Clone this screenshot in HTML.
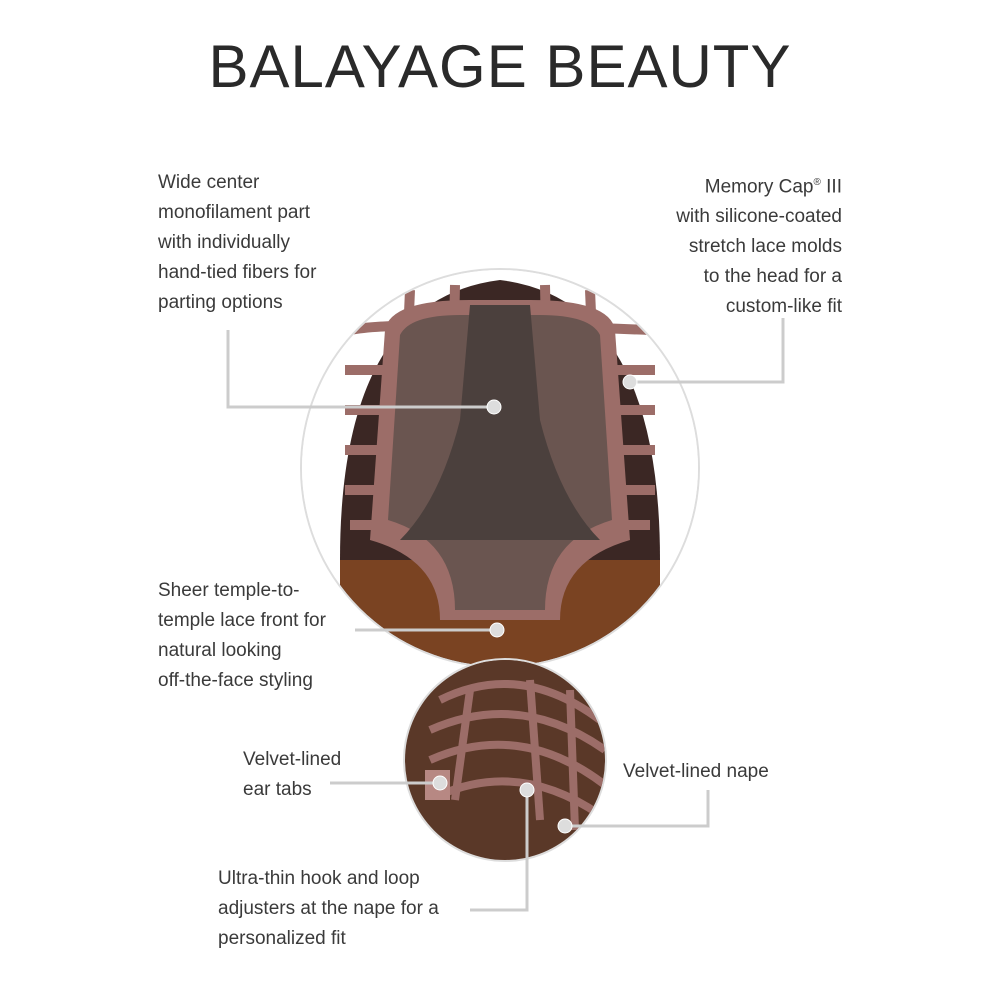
<!DOCTYPE html>
<html><head><meta charset="utf-8"><style>
html,body{margin:0;padding:0;background:#fff;}
body{width:1000px;height:1000px;position:relative;overflow:hidden;font-family:"Liberation Sans",sans-serif;}
.t{position:absolute;font-size:19px;line-height:30px;color:#3a3a3a;}
h1{position:absolute;top:32px;left:0;width:1000px;text-align:center;margin:0;font-weight:normal;font-size:60px;letter-spacing:1px;color:#2a2a2a;}
svg{position:absolute;left:0;top:0;}
</style></head><body>
<h1>BALAYAGE BEAUTY</h1>
<svg width="1000" height="1000" viewBox="0 0 1000 1000">
<defs>
<clipPath id="c1"><circle cx="500" cy="468" r="198"/></clipPath>
<clipPath id="c2"><circle cx="505" cy="760" r="100"/></clipPath>
</defs>
<circle cx="500" cy="468" r="199" fill="none" stroke="#ddd" stroke-width="2"/>
<g clip-path="url(#c1)">
<rect x="300" y="268" width="400" height="400" fill="#fff"/>
<path d="M340 560 Q340 300 500 280 Q660 300 660 560 L660 680 L340 680Z" fill="#3b2724"/>
<path d="M340 560 L660 560 L660 680 L340 680Z" fill="#7a4322"/>
<g stroke="#9c6d68" stroke-width="10" fill="none">
<path d="M350 330 Q400 320 650 330"/><path d="M345 370 L655 370"/><path d="M345 410 L655 410"/><path d="M345 450 L655 450"/><path d="M345 490 L655 490"/><path d="M350 525 L650 525"/>
<path d="M410 290 L400 520"/><path d="M455 285 L450 520"/><path d="M545 285 L550 520"/><path d="M590 290 L600 520"/>
</g>
<path d="M385 330 Q390 300 470 300 L530 300 Q610 300 615 330 L630 540 Q560 560 560 620 L440 620 Q440 560 370 540Z" fill="#9c6d68"/>
<path d="M400 335 Q410 315 460 315 L540 315 Q590 315 600 335 L612 520 Q545 540 545 610 L455 610 Q455 540 388 520Z" fill="#6a5550"/>
<path d="M470 305 L530 305 L540 420 Q560 500 600 540 L400 540 Q440 500 460 420Z" fill="#4b403d"/>
</g>
<circle cx="505" cy="760" r="101" fill="none" stroke="#ddd" stroke-width="2"/>
<g clip-path="url(#c2)">
<rect x="400" y="655" width="210" height="210" fill="#5a3828"/>
<g stroke="#9c6d68" stroke-width="8" fill="none">
<path d="M440 700 Q520 660 600 720"/><path d="M430 730 Q520 690 605 750"/><path d="M430 760 Q520 720 605 785"/><path d="M440 795 Q520 760 600 815"/>
<path d="M470 690 L455 800"/><path d="M530 680 L540 820"/><path d="M570 690 L575 830"/>
</g>
<rect x="425" y="770" width="25" height="30" fill="#b78883"/>
</g>
<g stroke="#ccc" stroke-width="3" fill="none">
<polyline points="228,330 228,407 494,407"/>
<polyline points="783,318 783,382 630,382"/>
<polyline points="355,630 497,630"/>
<polyline points="330,783 440,783"/>
<polyline points="708,790 708,826 565,826"/>
<polyline points="470,910 527,910 527,790"/>
</g>
<g fill="#ddd" stroke="#fff" stroke-width="1">
<circle cx="494" cy="407" r="7"/><circle cx="630" cy="382" r="7"/><circle cx="497" cy="630" r="7"/>
<circle cx="440" cy="783" r="7"/><circle cx="565" cy="826" r="7"/><circle cx="527" cy="790" r="7"/>
</g>
</svg>
<div class="t" style="left:158px;top:168px;">Wide center<br>monofilament part<br>with individually<br>hand-tied fibers for<br>parting options</div>
<div class="t" style="right:158px;top:168px;text-align:right;">Memory Cap<sup style="font-size:10px">®</sup> III<br>with silicone-coated<br>stretch lace molds<br>to the head for a<br>custom-like fit</div>
<div class="t" style="left:158px;top:576px;">Sheer temple-to-<br>temple lace front for<br>natural looking<br>off-the-face styling</div>
<div class="t" style="left:243px;top:745px;">Velvet-lined<br>ear tabs</div>
<div class="t" style="left:623px;top:757px;">Velvet-lined nape</div>
<div class="t" style="left:218px;top:864px;">Ultra-thin hook and loop<br>adjusters at the nape for a<br>personalized fit</div>
</body></html>
